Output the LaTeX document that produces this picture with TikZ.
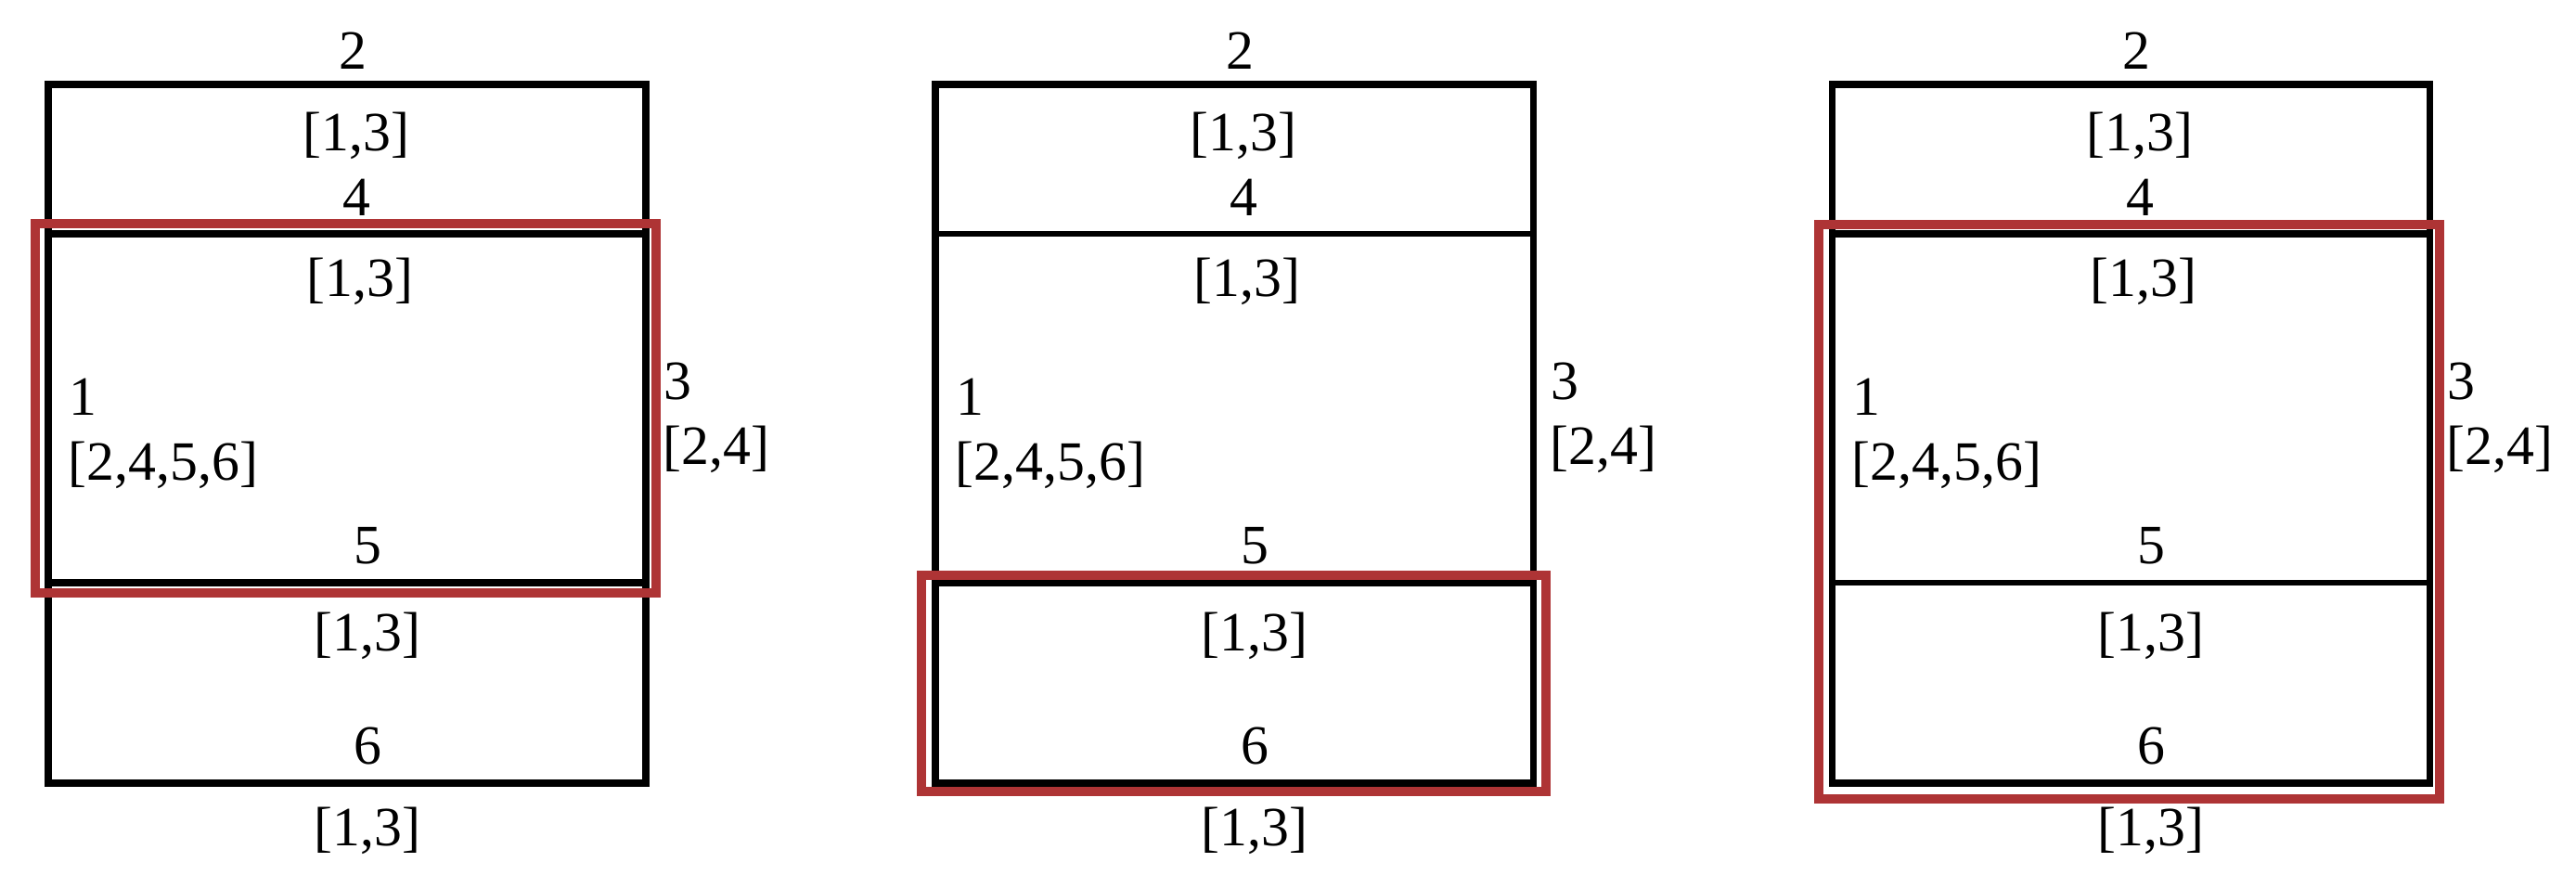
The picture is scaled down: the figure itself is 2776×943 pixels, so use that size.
\documentclass[tikz,border=0pt]{standalone}
\usepackage{fontspec}
\setmainfont{Liberation Serif}
\definecolor{rougeCadre}{RGB}{174,52,53}
\begin{document}
\begin{tikzpicture}[x=0.01cm,y=-0.01cm]
	\tikzstyle{cadre}=[line width=2pt]
	\tikzstyle{selection}=[draw=rougeCadre,line width=2.6pt]
	\tikzstyle{etiquette}=[inner sep=0pt,anchor=base,font=\fontsize{17}{20}\selectfont]
	\tikzstyle{etiquetteG}=[etiquette,anchor=base west]
	\def\Largeur{644}
	\def\NiveauA{91}
	\def\NiveauB{252}
	\def\NiveauC{628}
	\def\NiveauD{844}
	\useasboundingbox (0,0) rectangle (2776,943);
	\foreach \i/\L/\EpB/\EpC in {1/52/2pt/2pt,2/1008/1.7pt/2pt,3/1974/2pt/1.7pt}{
		\pgfmathsetmacro\R{\L+\Largeur}
		\coordinate (HG\i) at (\L,\NiveauA);
		\coordinate (BD\i) at (\R,\NiveauD);
		\coordinate (GB\i) at (\L,\NiveauB);
		\coordinate (DB\i) at (\R,\NiveauB);
		\coordinate (GC\i) at (\L,\NiveauC);
		\coordinate (DC\i) at (\R,\NiveauC);
		\draw[cadre] (HG\i) rectangle (BD\i);
		\draw[line width=\EpB] (GB\i)--(DB\i);
		\draw[line width=\EpC] (GC\i)--(DC\i);
		\node[etiquette] (deux\i) at (\L+328,75) {2};
		\node[etiquette] (haut\i) at (\L+332,163) {[1,3]};
		\node[etiquette] (quatre\i) at (\L+332,233) {4};
		\node[etiquette] (milieu\i) at (\L+336,320) {[1,3]};
		\node[etiquetteG] (un\i) at (\L+22,448) {1};
		\node[etiquetteG] (gauche\i) at (\L+21,518) {[2,4,5,6]};
		\node[etiquette] (cinq\i) at (\L+344,607) {5};
		\node[etiquette] (bas\i) at (\L+344,701) {[1,3]};
		\node[etiquette] (six\i) at (\L+344,823) {6};
		\node[etiquette] (dessous\i) at (\L+344,911) {[1,3]};
		\node[etiquetteG] (trois\i) at (\R+19,430) {3};
		\node[etiquetteG] (droite\i) at (\R+18,500) {[2,4]};
	}
	\draw[selection] (38,241) rectangle (707,639);
	\draw[selection] (993,620) rectangle (1666,853);
	\draw[selection] (1960,242) rectangle (2629,861);
\end{tikzpicture}
\end{document}
